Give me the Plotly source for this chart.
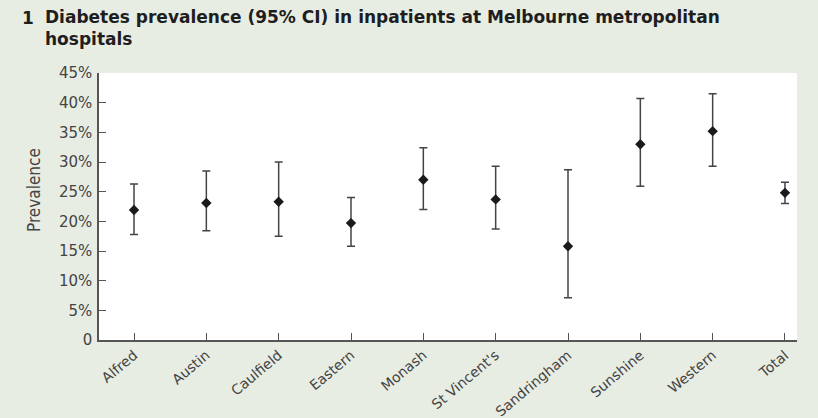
import plotly.graph_objects as go

categories = ["Alfred", "Austin", "Caulfield", "Eastern", "Monash", "St Vincent's",
              "Sandringham", "Sunshine", "Western", "Total"]
prevalence = [21.9, 23.1, 23.3, 19.7, 27.0, 23.7, 15.8, 33.0, 35.2, 24.8]
ci_upper = [26.3, 28.5, 30.0, 24.0, 32.4, 29.3, 28.7, 40.7, 41.5, 26.6]
ci_lower = [17.8, 18.4, 17.5, 15.8, 22.0, 18.7, 7.1, 25.9, 29.3, 23.0]
y_ticks = [0, 5, 10, 15, 20, 25, 30, 35, 40, 45]
y_tick_labels = ["0", "5%", "10%", "15%", "20%", "25%", "30%", "35%", "40%", "45%"]

x_pos = list(range(len(categories)))
err_plus = [u - p for u, p in zip(ci_upper, prevalence)]
err_minus = [p - l for p, l in zip(prevalence, ci_lower)]

L, R, T, B = 99, 797, 73, 340
PW, PH = R - L, B - T


def px(x):
    return (x - L) / PW


def py(y):
    return (B - y) / PH


fig = go.Figure()
fig.add_trace(go.Scatter(
    x=x_pos, y=prevalence, mode="markers",
    marker=dict(symbol="diamond", size=8, color="#1a1a1a"),
    error_y=dict(type="data", symmetric=False, array=err_plus, arrayminus=err_minus,
                 color="#444444", thickness=1.5, width=4),
    showlegend=False,
))

tick_font = dict(family="DejaVu Sans, sans-serif", size=14, color="#444444")

fig.update_layout(
    width=818, height=418,
    margin=dict(l=L, r=818 - R, t=T, b=418 - B, autoexpand=False),
    paper_bgcolor="#e8ede3",
    plot_bgcolor="#ffffff",
    font=dict(family="DejaVu Sans, sans-serif", color="#444444"),
    xaxis=dict(
        range=[-0.484, 9.166], tickmode="array", tickvals=x_pos, ticktext=categories,
        tickangle=-40, ticks="inside", ticklen=7, tickcolor="#555555", tickwidth=1.2,
        showline=True, linecolor="#555555", linewidth=1.5, showgrid=False, zeroline=False,
        tickfont=tick_font, automargin=False,
    ),
    yaxis=dict(
        range=[0, 45], tickmode="array", tickvals=y_ticks, ticktext=y_tick_labels,
        ticks="inside", ticklen=7, tickcolor="#555555", tickwidth=1.2,
        showline=True, linecolor="#555555", linewidth=1.5, showgrid=False, zeroline=False,
        tickfont=dict(family="DejaVu Sans, sans-serif", size=15, color="#444444"),
        ticklabelstandoff=2, automargin=False,
    ),
    annotations=[
        dict(text="1", x=px(20), y=py(6), xref="paper", yref="paper", showarrow=False,
             xanchor="left", yanchor="top",
             font=dict(family="DejaVu Sans, sans-serif", size=17, color="#1e1e1e", weight="bold")),
        dict(text="Diabetes prevalence (95% CI) in inpatients at Melbourne metropolitan<br>hospitals",
             x=px(43), y=py(5), xref="paper", yref="paper", showarrow=False, align="left",
             xanchor="left", yanchor="top",
             font=dict(family="DejaVu Sans, sans-serif", size=17, color="#1e1e1e", weight="bold")),
        dict(text="Prevalence", x=px(34), y=py(190), xref="paper", yref="paper", showarrow=False,
             textangle=-90, xanchor="center", yanchor="middle",
             font=dict(family="Liberation Sans Narrow, DejaVu Sans Condensed, sans-serif",
                       size=17, color="#444444")),
    ],
)

fig.write_html("out.html")
